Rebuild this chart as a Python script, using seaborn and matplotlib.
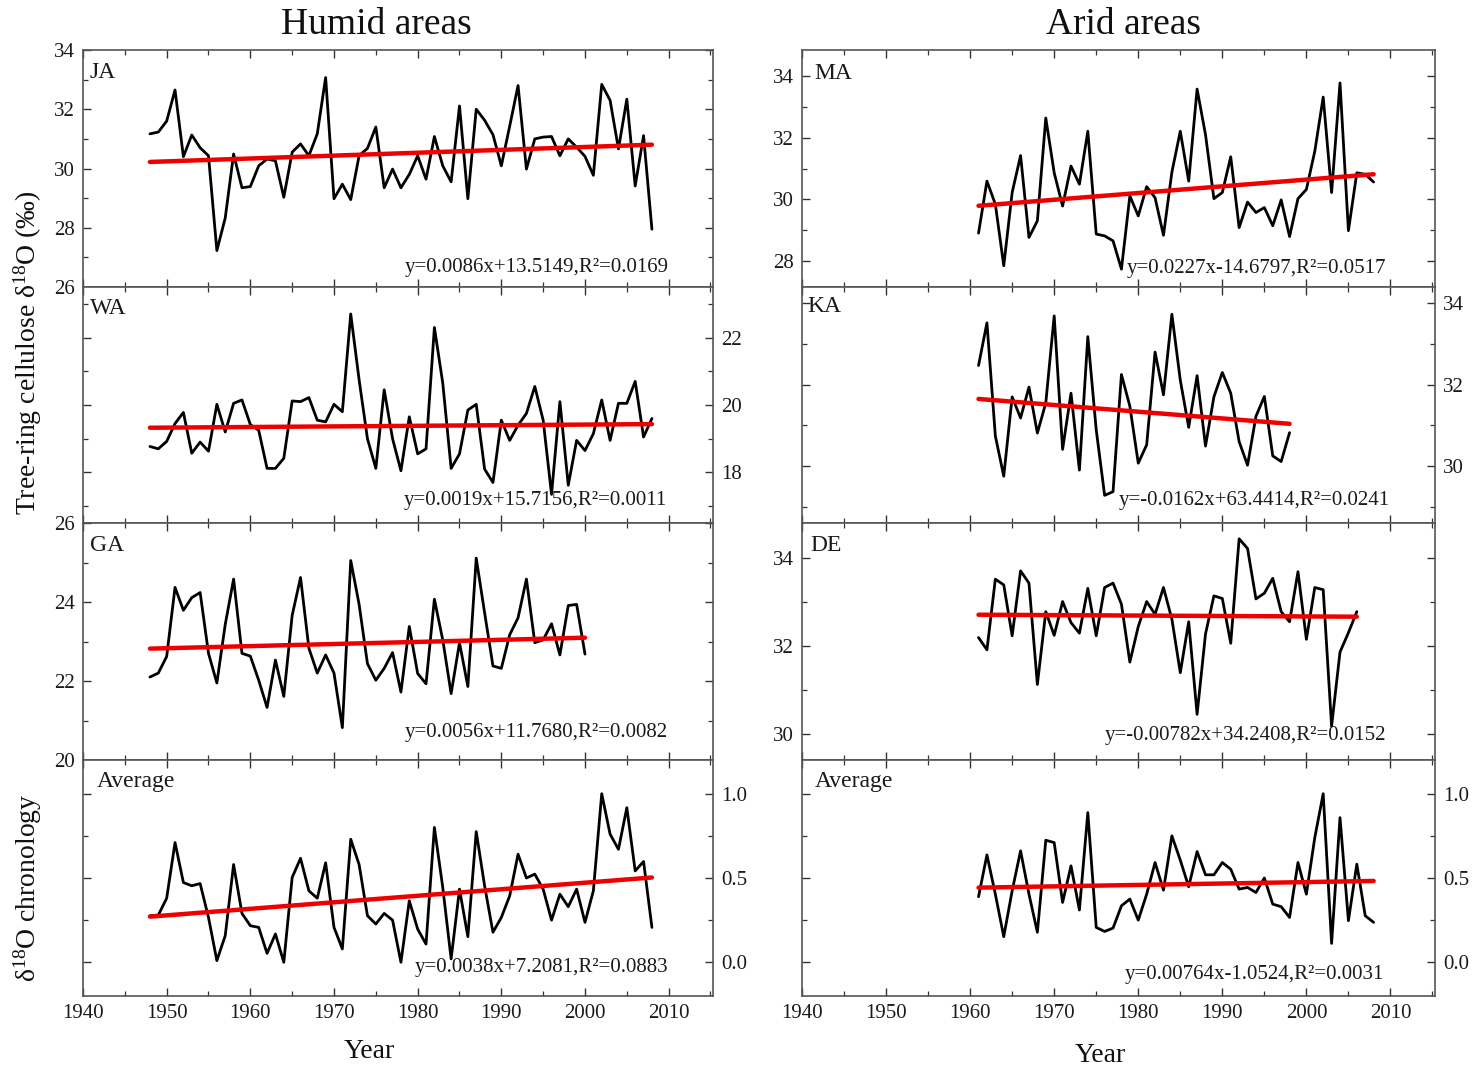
import numpy as np
import pandas as pd
import matplotlib
matplotlib.use("Agg")
import matplotlib.pyplot as plt
import seaborn as sns
from matplotlib.ticker import MultipleLocator, FormatStrFormatter

# ---------------- data ----------------
years_ja = list(range(1948, 2009))
ja = [31.17, 31.23, 31.6, 32.65, 30.4, 31.13, 30.7, 30.43, 27.23, 28.33,
      30.49, 29.35, 29.39, 30.09, 30.32, 30.26, 29.03, 30.55, 30.83, 30.43,
      31.17, 33.07, 28.98, 29.47, 28.95, 30.43, 30.68, 31.4, 29.35, 29.98,
      29.35, 29.8, 30.43, 29.64, 31.08, 30.09, 29.55, 32.11, 28.98, 32.0,
      31.63, 31.14, 30.09, 31.43, 32.8, 29.98, 31.0, 31.06, 31.08, 30.43,
      31.0, 30.72, 30.41, 29.77, 32.84, 32.3, 30.66, 32.34, 29.41, 31.11,
      27.95]

years_wa = list(range(1948, 2009))
wa = [18.77, 18.7, 18.92, 19.45, 19.78, 18.57, 18.9, 18.63, 20.02, 19.2,
      20.05, 20.15, 19.42, 19.25, 18.12, 18.12, 18.42, 20.12, 20.1, 20.22,
      19.55, 19.5, 20.02, 19.8, 22.7, 20.75, 19.0, 18.12, 20.45, 19.0,
      18.05, 19.65, 18.55, 18.7, 22.3, 20.65, 18.12, 18.55, 19.85, 20.02,
      18.1, 17.7, 19.55, 18.95, 19.4, 19.75, 20.55, 19.55, 17.35, 20.1,
      17.62, 18.95, 18.65, 19.15, 20.15, 18.95, 20.05, 20.05, 20.7, 19.05,
      19.6]

years_ga = list(range(1948, 2001))
ga = [22.1, 22.2, 22.62, 24.37, 23.79, 24.11, 24.24, 22.7, 21.95, 23.43,
      24.58, 22.7, 22.63, 22.02, 21.33, 22.53, 21.61, 23.66, 24.62, 22.83,
      22.2, 22.66, 22.2, 20.82, 25.05, 23.94, 22.44, 22.02, 22.32, 22.72,
      21.72, 23.38, 22.19, 21.93, 24.07, 23.04, 21.68, 22.97, 21.86, 25.11,
      23.73, 22.38, 22.32, 23.17, 23.6, 24.58, 22.97, 23.04, 23.45, 22.66,
      23.91, 23.94, 22.68]

years_avg_h = list(range(1948, 2009))
avg_h = [0.276, 0.28, 0.38, 0.71, 0.473, 0.454, 0.467, 0.266, 0.01, 0.158,
         0.58, 0.29, 0.217, 0.207, 0.053, 0.168, 0.0, 0.503, 0.617, 0.424,
         0.38, 0.59, 0.207, 0.079, 0.73, 0.58, 0.276, 0.227, 0.29, 0.25,
         0.0, 0.365, 0.197, 0.108, 0.80, 0.444, 0.02, 0.434, 0.152, 0.775,
         0.454, 0.178, 0.266, 0.394, 0.641, 0.5, 0.523, 0.434, 0.25, 0.404,
         0.33, 0.434, 0.237, 0.424, 1.0, 0.76, 0.67, 0.917, 0.542, 0.598,
         0.207]

years_ma = list(range(1961, 2009))
ma = [28.9, 30.59, 29.84, 27.84, 30.22, 31.42, 28.76, 29.3, 32.64, 30.86,
      29.78, 31.08, 30.49, 32.21, 28.87, 28.81, 28.65, 27.73, 30.11, 29.46,
      30.41, 30.05, 28.83, 30.88, 32.21, 30.59, 33.58, 32.1, 30.02, 30.22,
      31.38, 29.08, 29.91, 29.57, 29.73, 29.14, 29.98, 28.79, 30.02, 30.32,
      31.56, 33.32, 30.22, 33.78, 28.98, 30.86, 30.81, 30.56]

years_ka = list(range(1961, 1999))
ka = [32.47, 33.52, 30.74, 29.75, 31.7, 31.18, 31.94, 30.81, 31.55, 33.69,
      30.41, 31.79, 29.9, 33.18, 30.89, 29.28, 29.37, 32.25, 31.47, 30.07,
      30.52, 32.8, 31.75, 33.73, 32.11, 30.95, 32.22, 30.49, 31.7, 32.3,
      31.79, 30.6, 30.02, 31.22, 31.71, 30.25, 30.11, 30.82]

years_de = list(range(1961, 2007))
de = [32.19, 31.91, 33.52, 33.39, 32.23, 33.71, 33.43, 31.12, 32.78, 32.24,
      33.01, 32.53, 32.29, 33.31, 32.23, 33.33, 33.43, 32.95, 31.63, 32.44,
      33.01, 32.72, 33.33, 32.61, 31.39, 32.55, 30.44, 32.27, 33.14, 33.08,
      32.06, 34.44, 34.22, 33.07, 33.2, 33.54, 32.78, 32.55, 33.69, 32.15,
      33.33, 33.28, 30.17, 31.86, 32.3, 32.78]

years_avg_a = list(range(1961, 2009))
avg_a = [0.389, 0.637, 0.404, 0.152, 0.424, 0.661, 0.404, 0.178, 0.724, 0.71,
         0.355, 0.572, 0.31, 0.888, 0.207, 0.183, 0.203, 0.335, 0.375, 0.25,
         0.404, 0.592, 0.428, 0.75, 0.606, 0.448, 0.657, 0.519, 0.519, 0.592,
         0.552, 0.434, 0.444, 0.414, 0.5, 0.345, 0.33, 0.266, 0.592, 0.404,
         0.74, 1.0, 0.112, 0.858, 0.247, 0.582, 0.276, 0.237]

panel_names = ["JA", "WA", "GA", "Average", "MA", "KA", "DE", "Average"]
equations = ["y=0.0086x+13.5149,R\u00b2=0.0169",
             "y=0.0019x+15.7156,R\u00b2=0.0011",
             "y=0.0056x+11.7680,R\u00b2=0.0082",
             "y=0.0038x+7.2081,R\u00b2=0.0883",
             "y=0.0227x-14.6797,R\u00b2=0.0517",
             "y=-0.0162x+63.4414,R\u00b2=0.0241",
             "y=-0.00782x+34.2408,R\u00b2=0.0152",
             "y=0.00764x-1.0524,R\u00b2=0.0031"]
column_titles = ["Humid areas", "Arid areas"]

# ---------------- style ----------------
sns.set_theme(style="ticks")
plt.rcParams['font.family'] = ['Liberation Serif', 'DejaVu Serif']
plt.rcParams['mathtext.fontset'] = 'custom'
plt.rcParams['mathtext.rm'] = 'Liberation Serif'
plt.rcParams['mathtext.it'] = 'Liberation Serif:italic'
plt.rcParams['axes.linewidth'] = 1.2
plt.rcParams['axes.edgecolor'] = '#555555'

fig = plt.figure(figsize=(14.84, 10.70), dpi=100)

W, H = 1484.0, 1070.0
col_x = [(83, 713), (802, 1435)]
row_y = [50, 287, 523, 760, 996]

series = [
    (years_ja, ja), (years_wa, wa), (years_ga, ga), (years_avg_h, avg_h),
    (years_ma, ma), (years_ka, ka), (years_de, de), (years_avg_a, avg_a),
]
ylims = [(26, 34), (16.5, 23.5), (20, 26), (-0.2, 1.2),
         (27.15, 34.85), (28.6, 34.4), (29.4, 34.8), (-0.2, 1.2)]
majors = [2, 2, 2, 0.5, 2, 2, 2, 0.5]
minors = [1, 1, 1, 0.25, 1, 1, 1, 0.25]
sides = ['left', 'right', 'left', 'right', 'left', 'right', 'left', 'right']
eq_pos = [(0.929, 0.084), (0.927, 0.097), (0.929, 0.118), (0.929, 0.119),
          (0.923, 0.076), (0.928, 0.097), (0.923, 0.105), (0.919, 0.089)]
lab_pos = [(0.011, 0.907), (0.011, 0.911), (0.011, 0.903), (0.022, 0.911),
           (0.019, 0.900), (0.009, 0.916), (0.013, 0.903), (0.020, 0.907)]

for i, (yrs, vals) in enumerate(series):
    c = i // 4
    r = i % 4
    x0, x1 = col_x[c]
    top, bot = row_y[r], row_y[r + 1]
    ax = fig.add_axes([x0 / W, 1 - bot / H, (x1 - x0) / W, (bot - top) / H])
    df = pd.DataFrame({"Year": yrs, "val": vals})
    sns.lineplot(data=df, x="Year", y="val", ax=ax, color='black', lw=2.0)
    sns.regplot(data=df, x="Year", y="val", ax=ax, scatter=False, ci=None,
                color='red', line_kws=dict(lw=3.2, color='#ee0000'))
    ax.set_xlim(1940, 2015.3)
    ax.set_ylim(*ylims[i])
    ax.xaxis.set_major_locator(MultipleLocator(10))
    ax.xaxis.set_minor_locator(MultipleLocator(5))
    ax.yaxis.set_major_locator(MultipleLocator(majors[i]))
    ax.yaxis.set_minor_locator(MultipleLocator(minors[i]))
    if majors[i] < 1:
        ax.yaxis.set_major_formatter(FormatStrFormatter('%.1f'))
    else:
        ax.yaxis.set_major_formatter(FormatStrFormatter('%d'))
    ax.tick_params(which='both', direction='in', top=True, bottom=True,
                   left=True, right=True, colors='#333333',
                   labelleft=(sides[i] == 'left'),
                   labelright=(sides[i] == 'right'),
                   labelbottom=(r == 3), labelsize=15)
    ax.tick_params(axis='both', which='both', labelcolor='#1a1a1a')
    ax.tick_params(which='major', length=6, width=1.0, pad=6)
    ax.tick_params(which='minor', length=3.5, width=0.9)
    ax.set_xlabel('')
    ax.set_ylabel('')
    ax.text(eq_pos[i][0], eq_pos[i][1], equations[i], transform=ax.transAxes,
            ha='right', va='center', fontsize=15, color='#1a1a1a')
    ax.text(lab_pos[i][0], lab_pos[i][1], panel_names[i], transform=ax.transAxes,
            ha='left', va='center', fontsize=17, color='#1a1a1a')

fig.text(376 / W, 1 - 25 / H, column_titles[0], ha='center', va='center',
         fontsize=27, color='#111111')
fig.text(1124 / W, 1 - 25 / H, column_titles[1], ha='center', va='center',
         fontsize=27, color='#111111')
fig.text(369 / W, 1 - 1052 / H, "Year", ha='center', va='center',
         fontsize=20, color='#111111')
fig.text(1100 / W, 1 - 1055 / H, "Year", ha='center', va='center',
         fontsize=20, color='#111111')
fig.text(28 / W, 1 - 353 / H, "Tree-ring cellulose \u03b4$^{18}$O (\u2030)",
         rotation=90, ha='center', va='center', fontsize=20, color='#111111')
fig.text(28 / W, 1 - 888 / H, "\u03b4$^{18}$O chronology",
         rotation=90, ha='center', va='center', fontsize=20, color='#111111')

fig.savefig("out.png", dpi=100, facecolor='white')
